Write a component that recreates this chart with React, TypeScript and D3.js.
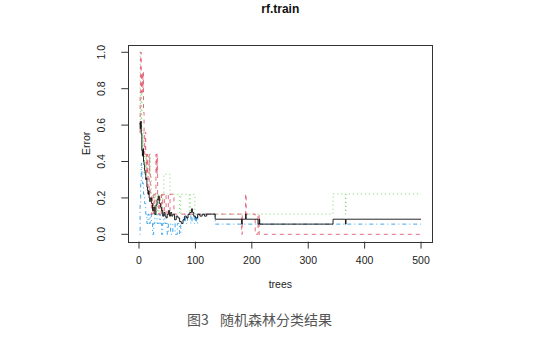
import React from "react";
import * as d3 from "d3";

// ---- data ----
const oobTrees = [1,2,3,4,5,6,7,8,9,10,11,12,13,14,15,16,17,18,19,20,22,24,26,28,30,32,34,36,38,40,42,44,46,48,50,52,54,56,58,60,63,66,69,72,75,78,81,84,87,90,93,95,97,100,104,108,112,116,120,135,182,183,189,190,211,213,214,344,366,367];
const oobErr = [0.61,0.58,0.62,0.55,0.46,0.43,0.47,0.4,0.38,0.35,0.33,0.3,0.31,0.26,0.24,0.22,0.24,0.2,0.18,0.2,
  0.17,0.13,0.15,0.11,0.16,0.19,0.21,0.17,0.15,0.13,0.1,0.12,0.1,0.09,0.11,0.13,0.1,0.12,0.1,0.11,
  0.08,0.1,0.09,0.07,0.06,0.08,0.1,0.09,0.11,0.12,0.14,
  0.12,0.1,0.09,
  0.11,0.1,0.11,0.1,0.111,
  0.083,0.056,0.083,0.111,0.083,0.056,0.083,0.056,0.083,0.056,0.083];

const redTrees = [1,2,3,4,5,6,7,8,9,10,11,12,13,14,15,16,18,19,20,22,24,26,28,30,31,32,33,35,37,40,42,45,48,52,55,62,182,183,189,190,206,211,213];
const redErr = [0.56,0.78,1.0,0.78,0.89,0.78,0.89,0.67,0.56,0.44,0.56,0.44,0.33,0.44,0.33,0.22,
  0.44,0.33,0.22,
  0.11,0.22,0.11,0.22,0.44,
  0.33,0.44,0.22,0.11,0.22,
  0.11,0.22,0.11,0.22,0.11,0.22,0.111,
  0,0.111,0.222,0.111,0,0.111,0];

const greenTrees = [1,2,3,4,5,6,7,8,9,10,12,14,16,18,20,22,24,26,28,30,33,35,38,42,44,55,72,74,89,91,99,344,366,367];
const greenErr = [1.0,0.78,0.56,0.78,0.56,0.44,0.56,0.44,0.33,0.44,
  0.33,0.44,0.33,0.44,0.33,0.22,0.11,0.22,0.11,0.22,
  0.11,0.22,0.11,0.22,0.33,0.22,
  0.11,0.22,0.11,0.22,0.111,
  0.222,0.111,0.222];

const blueTrees = [1,2,3,4,5,6,8,10,12,14,16,18,20,22,24,26,28,30,32,34,36,38,40,42,44,46,48,50,52,54,56,58,60,62,64,66,68,70,72,74,76,78,80,82,84,86,88,90,92,94,96,98,100,102,104,135];
const blueErr = [0,0.17,0.28,0.39,0.33,0.28,
  0.22,0.17,0.11,0.06,0.11,0.06,0.11,0.06,0.0,0.06,
  0.11,0.11,0.06,0.06,0.11,0.06,0.0,0.06,0.11,0.06,
  0.06,0.0,0.06,0.06,0.0,0.0,0.06,0.06,0.0,0.0,
  0.06,0.06,0.0,0.06,0.06,0.06,0.11,0.06,0.06,0.11,
  0.11,0.11,0.06,0.11,0.11,0.06,0.11,0.06,0.111,
  0.056];

const nTrees = 500;
const xTicks = [0, 100, 200, 300, 400, 500];
const yTicks = [0, 0.2, 0.4, 0.6, 0.8, 1.0];

const series = [
  { name: "OOB", trees: oobTrees, err: oobErr, color: "#000000", dash: "none", op: 0.85 },
  { name: "1", trees: redTrees, err: redErr, color: "#DF536B", dash: "4,4", op: 0.85 },
  { name: "2", trees: greenTrees, err: greenErr, color: "#61D04F", dash: "1,3", op: 0.85 },
  { name: "3", trees: blueTrees, err: blueErr, color: "#2297E6", dash: "1,3,4,3", op: 0.85 },
];

export default function App() {
  const W = 541, H = 337;
  const left = 128.3, right = 432.3, top = 45, bottom = 241.6;
  const x = d3.scaleLinear().domain([1 - 0.04 * (nTrees - 1), nTrees + 0.04 * (nTrees - 1)]).range([left, right]);
  const y = d3.scaleLinear().domain([-0.04, 1.04]).range([bottom, top]);
  const font = "'Liberation Sans', Arial, sans-serif";
  const fmt = d3.format(".1f");

  const paths = series.map((s) => {
    const pts: [number, number][] = s.trees.map((t, i) => [t, s.err[i]]);
    pts.push([nTrees, s.err[s.err.length - 1]]);
    const line = d3
      .line<[number, number]>()
      .x((d) => x(d[0]))
      .y((d) => y(d[1]))
      .curve(d3.curveStepAfter);
    return { ...s, d: line(pts) || "" };
  });

  const drawOrder = [paths[3], paths[2], paths[1], paths[0]];

  return (
    <svg
      width={W}
      height={H}
      style={{ position: "absolute", left: 0, top: 0, background: "#fff" }}
      fontFamily={font}
    >
      <defs>
        <clipPath id="plotclip">
          <rect x={left} y={top} width={right - left} height={bottom - top} />
        </clipPath>
      </defs>
      <rect x={0} y={0} width={W} height={H} fill="#fff" />
      <text x={(left + right) / 2} y={13} textAnchor="middle" fontSize={12} fontWeight="bold" fill="#111">
        rf.train
      </text>

      <g clipPath="url(#plotclip)">
        {drawOrder.map((p) => (
          <path
            key={p.name}
            d={p.d}
            fill="none"
            stroke={p.color}
            strokeOpacity={p.op}
            strokeWidth={1}
            strokeDasharray={p.dash}
          />
        ))}
      </g>

      <rect
        x={Math.round(left) + 0.5}
        y={Math.round(top) + 0.5}
        width={Math.round(right) - Math.round(left)}
        height={Math.round(bottom) - Math.round(top)}
        fill="none"
        stroke="#333"
        strokeWidth={1}
      />

      {xTicks.map((t) => (
        <g key={"x" + t}>
          <line x1={x(t)} x2={x(t)} y1={bottom} y2={bottom + 7} stroke="#333" strokeWidth={1} />
          <text x={x(t)} y={264} textAnchor="middle" fontSize={10.5} fill="#222">
            {t}
          </text>
        </g>
      ))}

      {yTicks.map((t) => (
        <g key={"y" + t}>
          <line x1={left} x2={left - 7} y1={y(t)} y2={y(t)} stroke="#333" strokeWidth={1} />
          <text
            transform={`translate(101.7,${y(t)}) rotate(-90)`}
            textAnchor="middle"
            dy="0.35em"
            fontSize={10.5}
            fill="#222"
          >
            {fmt(t)}
          </text>
        </g>
      ))}

      <text x={(left + right) / 2} y={288} textAnchor="middle" fontSize={10.5} fill="#222">
        trees
      </text>
      <text
        transform={`translate(86.7,${(top + bottom) / 2}) rotate(-90)`}
        textAnchor="middle"
        dy="0.35em"
        fontSize={10.5}
        fill="#222"
      >
        Error
      </text>

      <text x={187} y={325} fontSize={14} fill="#555" fontFamily="'Noto Sans CJK SC', sans-serif">
        图3
      </text>
      <text x={220} y={325} fontSize={14} fill="#555" fontFamily="'Noto Sans CJK SC', sans-serif">
        随机森林分类结果
      </text>
    </svg>
  );
}
